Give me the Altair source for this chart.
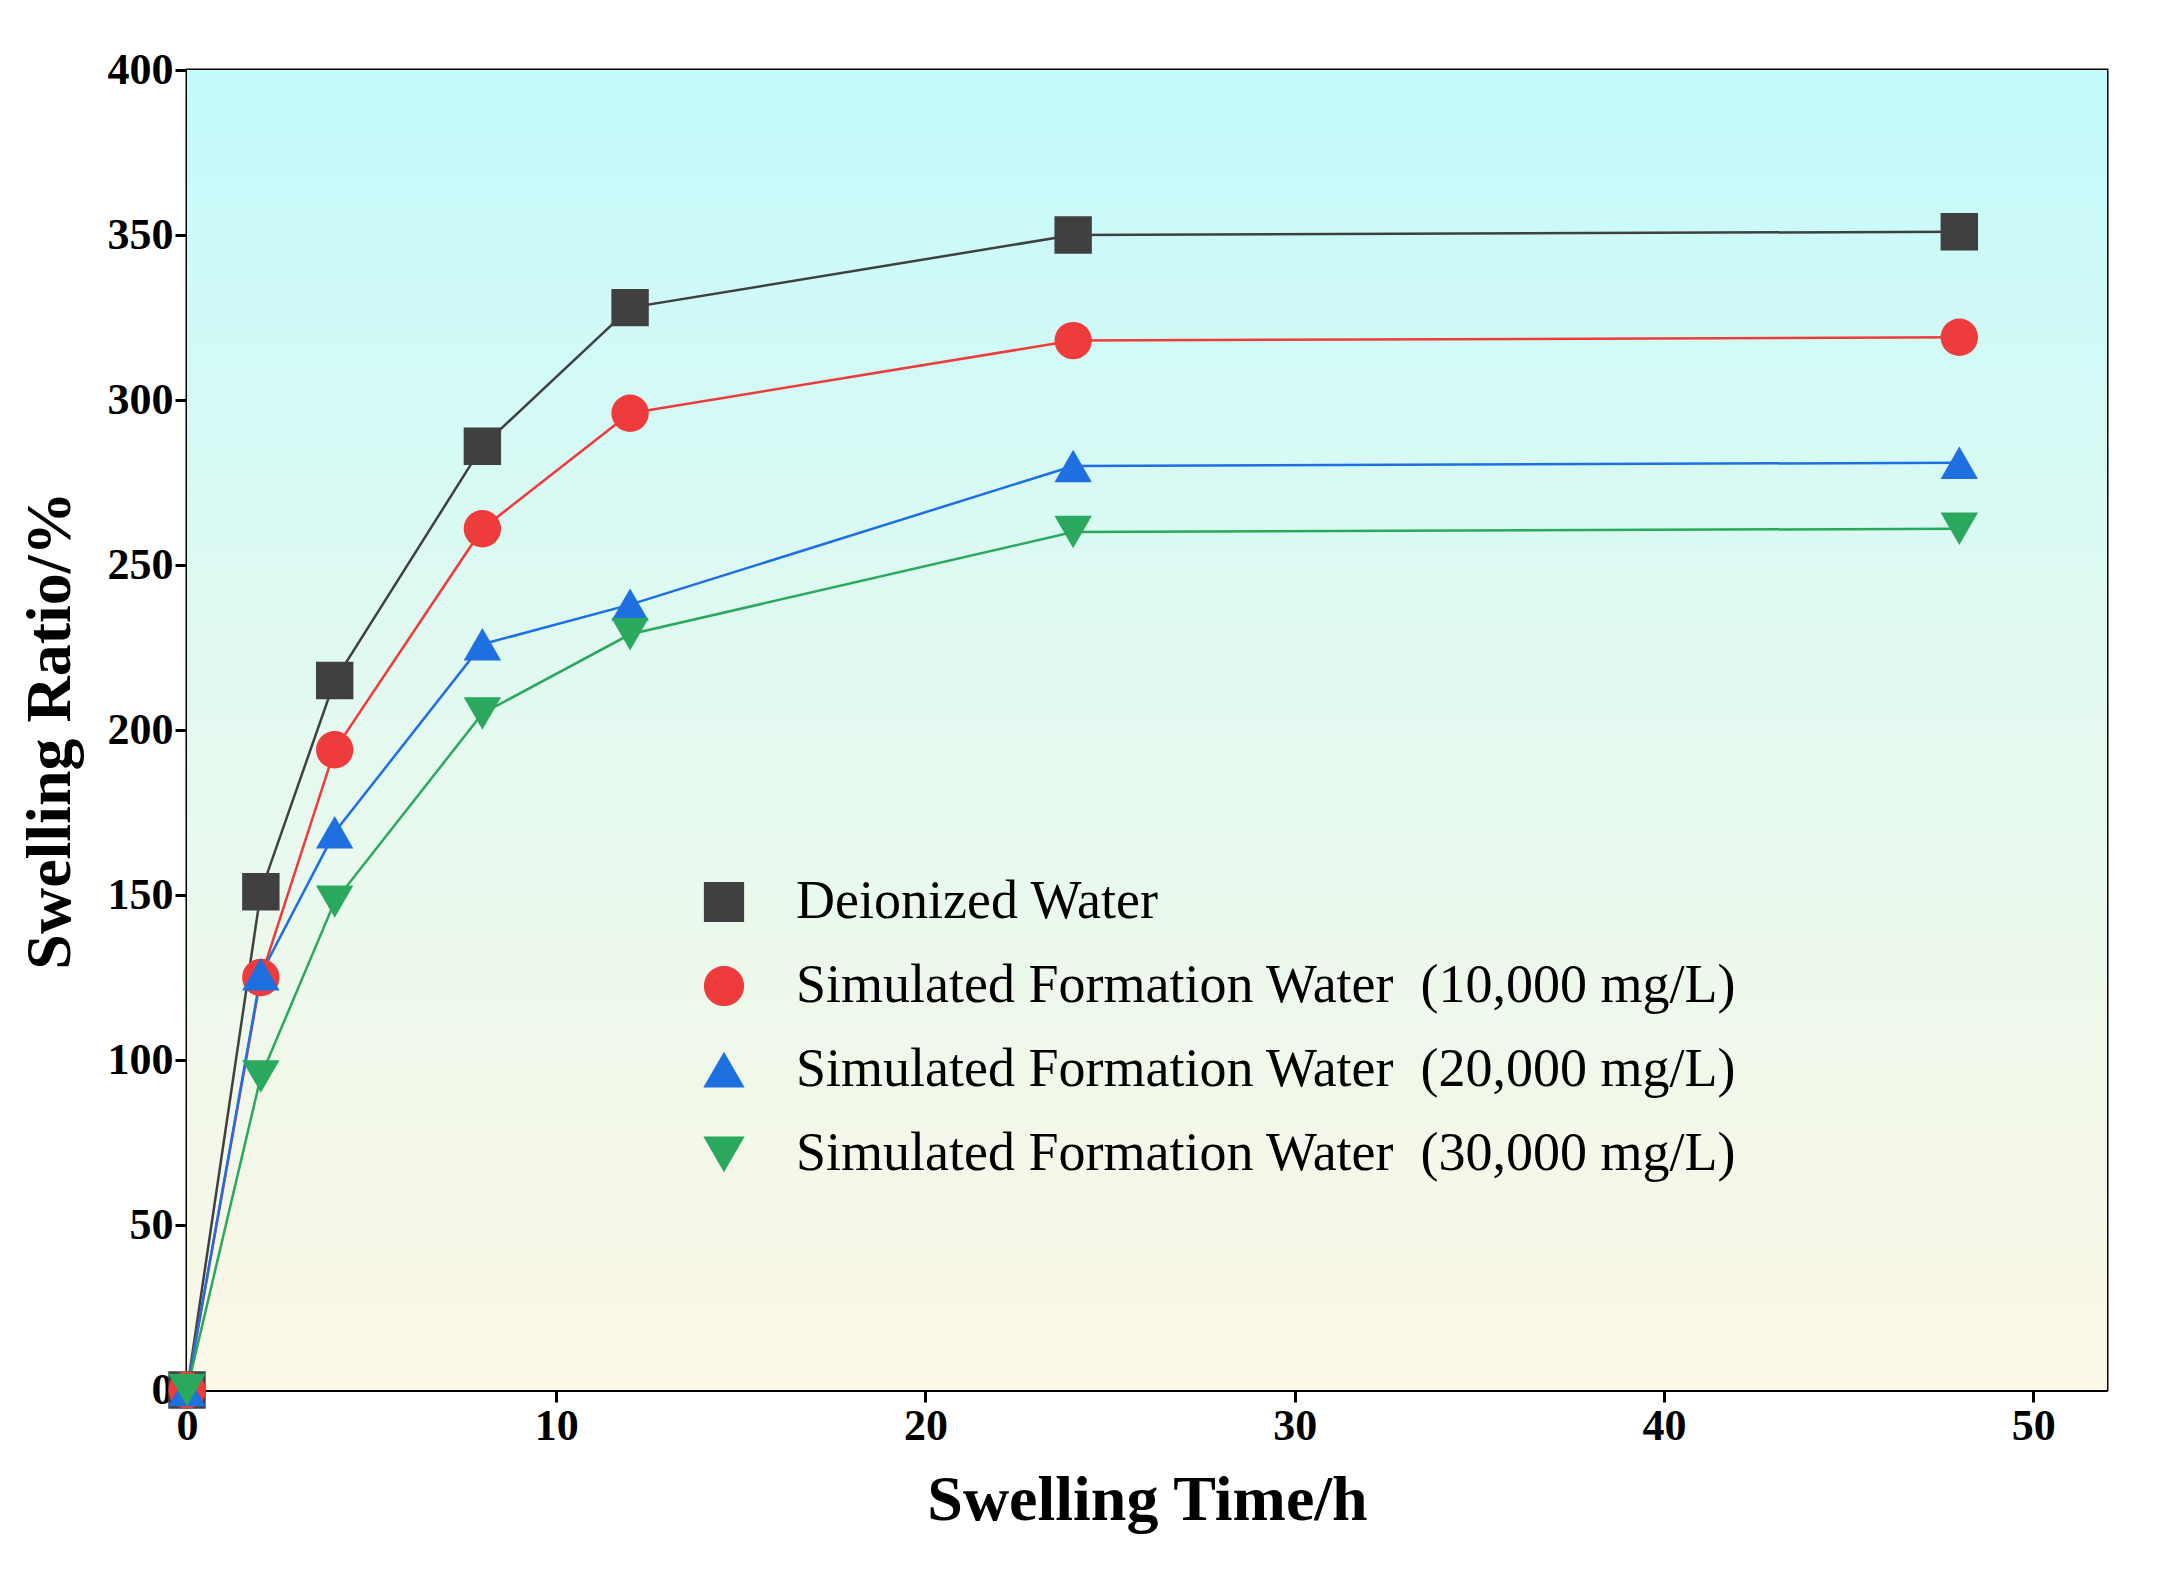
import altair as alt
import pandas as pd

times = [0, 2, 4, 8, 12, 24, 48]
deionized = [0, 151, 215, 286, 328, 350, 351]
sfw_10k = [0, 125, 194, 261, 296, 318, 319]
sfw_20k = [0, 126, 169, 226, 238, 280, 281]
sfw_30k = [0, 95, 148, 205, 229, 260, 261]

nb = "\u00a0\u00a0"
names = [
    "Deionized Water",
    f"Simulated Formation Water{nb}(10,000 mg/L)",
    f"Simulated Formation Water{nb}(20,000 mg/L)",
    f"Simulated Formation Water{nb}(30,000 mg/L)",
]
colors = ["#404040", "#ee3b3b", "#1e6fe0", "#2aa85e"]
shapes = ["square", "circle", "triangle-up", "triangle-down"]

rows = []
for name, vals in zip(names, [deionized, sfw_10k, sfw_20k, sfw_30k]):
    for t, v in zip(times, vals):
        rows.append({"time": t, "ratio": v, "series": name})
df = pd.DataFrame(rows)

W, H = 1920, 1320
font = "Liberation Serif"

bg = alt.Chart(pd.DataFrame({"a": [0]})).mark_rect(
    color=alt.Gradient(
        gradient="linear", x1=0, y1=0, x2=0, y2=1,
        stops=[
            alt.GradientStop(offset=0, color="#c4fafc"),
            alt.GradientStop(offset=0.5, color="#e4f9ef"),
            alt.GradientStop(offset=1, color="#fcf7e6"),
        ],
    )
).encode(x=alt.value(0), x2=alt.value(W), y=alt.value(0), y2=alt.value(H))

x = alt.X("time:Q", title="Swelling Time/h",
          scale=alt.Scale(domain=[0, 52], nice=False),
          axis=alt.Axis(values=[0, 10, 20, 30, 40, 50], grid=False, labelFlush=False))
y = alt.Y("ratio:Q", title="Swelling Ratio/%",
          scale=alt.Scale(domain=[0, 400], nice=False),
          axis=alt.Axis(values=list(range(0, 401, 50)), grid=False, labelFlush=False))
color = alt.Color("series:N", scale=alt.Scale(domain=names, range=colors), title=None,
                  legend=alt.Legend(orient="none", legendX=510, legendY=805,
                                    labelFontSize=54, labelFont=font, symbolSize=1500,
                                    rowPadding=30, labelLimit=1500, labelOffset=45))
shape = alt.Shape("series:N", scale=alt.Scale(domain=names, range=shapes), title=None)

lines = alt.Chart(df).mark_line(strokeWidth=2.5).encode(x=x, y=y, color=color)
points = alt.Chart(df).mark_point(filled=True, size=1400, opacity=1).encode(
    x=x, y=y, color=color, shape=shape)

chart = (
    alt.layer(bg, lines, points)
    .properties(width=W, height=H, padding={"left": 10, "top": 40, "right": 10, "bottom": 10})
    .configure_view(stroke="black", strokeWidth=3)
    .configure_axis(
        labelFont=font, titleFont=font, labelFontSize=44, labelFontWeight="bold",
        titleFontSize=64, titleFontWeight="bold", domainColor="black", domainWidth=3,
        tickColor="black", tickWidth=3, tickSize=12, labelColor="black", titleColor="black",
    )
    .configure_axisX(titlePadding=20)
    .configure_axisY(titlePadding=25)
)

chart.save("out.html", embed_options={"renderer": "svg", "actions": False})
